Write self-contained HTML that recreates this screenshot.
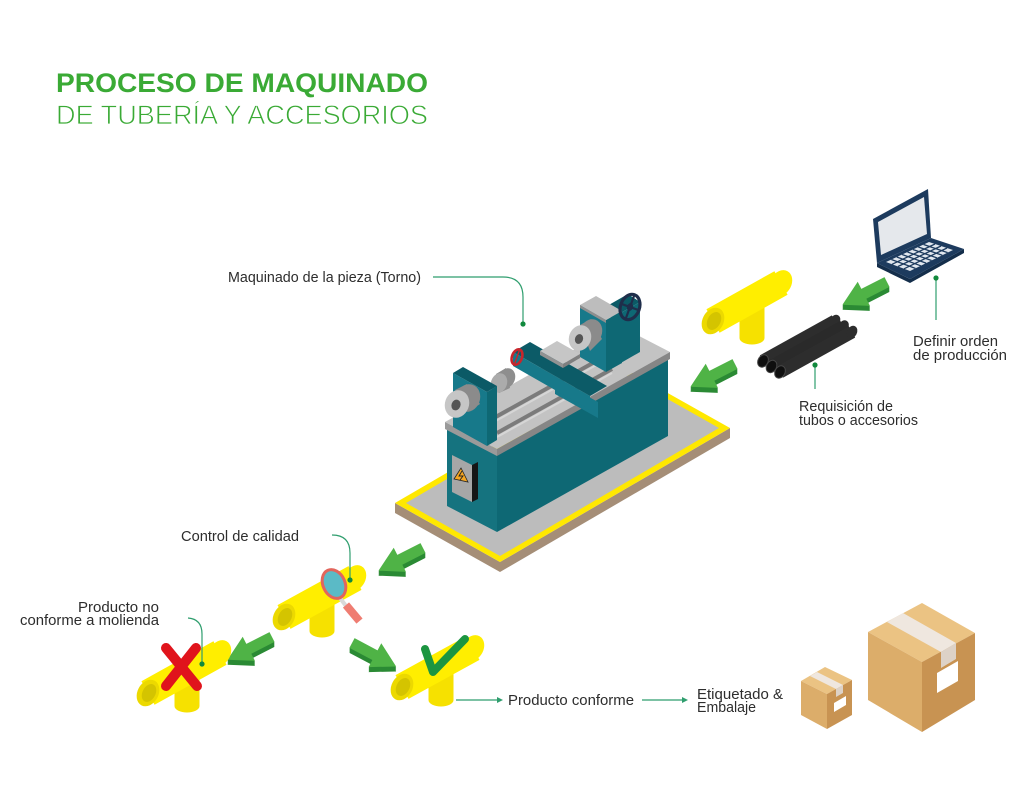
<!DOCTYPE html>
<html>
<head>
<meta charset="utf-8">
<style>
html,body{margin:0;padding:0;background:#ffffff;}
svg{display:block;}
.lbl{font-family:"Liberation Sans",sans-serif;font-size:14.5px;fill:#2d2d2d;}
</style>
</head>
<body>
<svg width="1024" height="791" viewBox="0 0 1024 791" xmlns="http://www.w3.org/2000/svg">
<defs>
  <polygon id="ap" points="0,-5.5 26,-5.5 26,-13.5 50,0 26,13.5 26,5.5 0,5.5"/>
</defs>
<rect width="1024" height="791" fill="#ffffff"/>

<!-- TITLE -->
<text x="56" y="92" font-family="Liberation Sans, sans-serif" font-weight="bold" font-size="27" fill="#3aaa35" textLength="372" lengthAdjust="spacingAndGlyphs">PROCESO DE MAQUINADO</text>
<text x="56" y="124" font-family="Liberation Sans, sans-serif" font-size="27" fill="#3aaa35" stroke="#ffffff" stroke-width="0.8" textLength="372" lengthAdjust="spacingAndGlyphs">DE TUBERÍA Y ACCESORIOS</text>

<!-- ===== LATHE BASE ===== -->
<polygon points="395,503 500,562 730,428 730,438 500,572 395,513" fill="#a58e77"/>
<polygon points="395,503 500,562 730,428 625,369" fill="#ffe800"/>
<polygon points="406,503 500,556 719,428 625,375" fill="#bcbcbc"/>

<!-- BODY -->
<polygon points="447,427 497,453 497,532 447,506" fill="#15737f"/>
<polygon points="497,453 668,357 668,436 497,532" fill="#0e6874"/>
<!-- top slab -->
<polygon points="445,422 497,449 670,352 618,325" fill="#c3c3c3"/>
<polygon points="445,422 497,449 497,456 445,429" fill="#9a9a9a"/>
<polygon points="497,449 670,352 670,359 497,456" fill="#868686"/>
<!-- rails -->
<line x1="497" y1="433" x2="612" y2="369" stroke="#7b7b7b" stroke-width="4"/>
<line x1="497" y1="437" x2="612" y2="373" stroke="#d6d6d6" stroke-width="2"/>
<line x1="492" y1="419" x2="600" y2="359" stroke="#7b7b7b" stroke-width="4"/>
<line x1="492" y1="423" x2="600" y2="363" stroke="#d6d6d6" stroke-width="2"/>

<!-- electrical panel -->
<polygon points="452,455 472,465 472,502 452,492" fill="#a7a7a7"/>
<polygon points="472,465 478,462 478,499 472,502" fill="#161616"/>
<polygon points="461,468 468,482 454,479" fill="#f5a623" stroke="#222" stroke-width="0.8"/>
<polyline points="462,471 459,476 463,476 460,480" fill="none" stroke="#222" stroke-width="0.9"/>

<!-- TAILSTOCK rear block -->
<polygon points="600,310 628,294 640,302 612,318" fill="#0b5a66"/>
<polygon points="612,318 640,302 640,352 612,368" fill="#0e6874"/>
<!-- tailstock front box -->
<polygon points="580,305 606,320 606,372 580,357" fill="#17798a"/>
<polygon points="606,320 622,311 622,363 606,372" fill="#0e6874"/>
<polygon points="580,305 606,320 622,311 596,296" fill="#bdbdbd"/>
<polygon points="580,305 606,320 606,323 580,308" fill="#8e8e8e"/>
<!-- tailstock chuck -->
<ellipse cx="591" cy="332" rx="11" ry="13" transform="rotate(20 591 332)" fill="#8b8b8b"/>
<polygon points="580,325 591,319 602,339 590,351" fill="#8b8b8b"/>
<ellipse cx="580" cy="338" rx="11" ry="13" transform="rotate(20 580 338)" fill="#c6c6c6"/>
<ellipse cx="579" cy="339" rx="4" ry="5" transform="rotate(20 579 339)" fill="#555"/>
<!-- handwheel -->
<g transform="rotate(20 630 307)">
  <ellipse cx="630" cy="307" rx="9.5" ry="13" fill="none" stroke="#1f2e4b" stroke-width="3.2"/>
  <line x1="630" y1="295" x2="630" y2="319" stroke="#1f2e4b" stroke-width="2.2"/>
  <line x1="621" y1="307" x2="639" y2="307" stroke="#1f2e4b" stroke-width="2.2"/>
  <ellipse cx="630" cy="307" rx="3" ry="4" fill="#1f2e4b"/>
</g>

<!-- CARRIAGE -->
<polygon points="555,378 598,402 598,418 555,394" fill="#17798a"/>
<polygon points="598,402 612,394 612,410 598,418" fill="#0e6874"/>
<polygon points="513,352 590,396 590,410 513,366" fill="#17798a"/>
<polygon points="513,352 590,396 607,386 530,342" fill="#0c5b67"/>
<polygon points="540,351 557,341 580,354 563,364" fill="#c6c6c6"/>
<polygon points="540,351 563,364 563,368 540,355" fill="#929292"/>
<polygon points="563,364 580,354 580,358 563,368" fill="#7f7f7f"/>
<!-- red wheel -->
<g transform="rotate(20 517 357)">
  <ellipse cx="517" cy="357" rx="5" ry="8" fill="none" stroke="#c8262c" stroke-width="2.6"/>
  <line x1="517" y1="349" x2="517" y2="365" stroke="#c8262c" stroke-width="1.4"/>
</g>

<!-- HEADSTOCK spindle behind -->
<ellipse cx="507" cy="378" rx="8" ry="10" transform="rotate(20 507 378)" fill="#8e8e8e"/>
<polygon points="496,374 506,368 510,388 499,393" fill="#8e8e8e"/>
<ellipse cx="499" cy="383" rx="8" ry="10" transform="rotate(20 499 383)" fill="#ababab"/>
<!-- headstock block -->
<polygon points="453,373 487,392 487,446 453,427" fill="#17798a"/>
<polygon points="487,392 497,386 497,440 487,446" fill="#0e6874"/>
<polygon points="453,373 463,367 497,386 487,392" fill="#0b5a66"/>
<!-- headstock chuck -->
<ellipse cx="468" cy="398" rx="12" ry="14" transform="rotate(20 468 398)" fill="#8b8b8b"/>
<polygon points="455,390 467,384 480,404 468,412" fill="#8b8b8b"/>
<ellipse cx="457" cy="404" rx="12" ry="14" transform="rotate(20 457 404)" fill="#c6c6c6"/>
<ellipse cx="456" cy="405" rx="4.5" ry="5.5" transform="rotate(20 456 405)" fill="#555"/>

<!-- ===== TEE 1 (top) ===== -->
<line x1="752" y1="299" x2="752" y2="338" stroke="#f6e100" stroke-width="25"/>
<ellipse cx="752" cy="338" rx="12.5" ry="6.5" fill="#f6e100"/>
<line x1="713" y1="321" x2="781" y2="283" stroke="#ffee00" stroke-width="27"/>
<ellipse cx="781" cy="283" rx="10.5" ry="13.5" transform="rotate(28 781 283)" fill="#ffee00"/>
<ellipse cx="713" cy="321" rx="10.5" ry="14" transform="rotate(28 713 321)" fill="#ecd900"/>
<ellipse cx="714" cy="321" rx="6.5" ry="9.5" transform="rotate(28 714 321)" fill="#d4c400"/>

<!-- BLACK TUBES -->
<line x1="763" y1="361" x2="835" y2="321" stroke="#2d2d2d" stroke-width="13"/>
<ellipse cx="835" cy="321" rx="5" ry="6.5" transform="rotate(28 835 321)" fill="#2d2d2d"/>
<ellipse cx="763" cy="361" rx="5" ry="6.5" transform="rotate(28 763 361)" fill="#0f0f0f" stroke="#474747" stroke-width="1"/>
<line x1="771.5" y1="366.5" x2="843.5" y2="326.5" stroke="#2a2a2a" stroke-width="13"/>
<ellipse cx="843.5" cy="326.5" rx="5" ry="6.5" transform="rotate(28 843.5 326.5)" fill="#2a2a2a"/>
<ellipse cx="771.5" cy="366.5" rx="5" ry="6.5" transform="rotate(28 771.5 366.5)" fill="#0f0f0f" stroke="#474747" stroke-width="1"/>
<line x1="780" y1="372" x2="852" y2="332" stroke="#2d2d2d" stroke-width="13"/>
<ellipse cx="852" cy="332" rx="5" ry="6.5" transform="rotate(28 852 332)" fill="#2d2d2d"/>
<ellipse cx="780" cy="372" rx="5" ry="6.5" transform="rotate(28 780 372)" fill="#0f0f0f" stroke="#474747" stroke-width="1"/>

<!-- ===== LAPTOP ===== -->
<polygon points="877,263 910,279 910,283 877,267" fill="#142e4b"/>
<polygon points="910,279 964,249 964,253 910,283" fill="#142e4b"/>
<polygon points="877,263 931,238 964,249 910,279" fill="#1d3b5e"/>
<polygon points="886,262 929,242 953,250 910,271" fill="#e1e7ee"/>
<g stroke="#1d3b5e" stroke-width="1.3">
  <line x1="892" y1="264.3" x2="935" y2="244"/>
  <line x1="898" y1="266.5" x2="941" y2="246"/>
  <line x1="904" y1="268.8" x2="947" y2="248"/>
  <line x1="891.4" y1="259.5" x2="915.4" y2="268.4"/>
  <line x1="896.8" y1="257" x2="920.8" y2="265.8"/>
  <line x1="902.1" y1="254.5" x2="926.1" y2="263.1"/>
  <line x1="907.5" y1="252" x2="931.5" y2="260.5"/>
  <line x1="912.9" y1="249.5" x2="936.9" y2="257.9"/>
  <line x1="918.3" y1="247" x2="942.3" y2="255.3"/>
  <line x1="923.6" y1="244.5" x2="947.6" y2="252.6"/>
</g>
<polygon points="873,219 928,189 931,238 877,263" fill="#1d3b5e"/>
<polygon points="878,222 924,197 927,234 881,255" fill="#e5e8ec"/>

<!-- ===== GREEN ARROWS ===== -->
<g transform="translate(887,282)">
  <use href="#ap" transform="translate(0,5) rotate(153)" fill="#2b8a34"/>
  <use href="#ap" transform="translate(0,4) rotate(153)" fill="#2b8a34"/>
  <use href="#ap" transform="translate(0,3) rotate(153)" fill="#2b8a34"/>
  <use href="#ap" transform="translate(0,2) rotate(153)" fill="#2b8a34"/>
  <use href="#ap" transform="translate(0,1) rotate(153)" fill="#2b8a34"/>
  <use href="#ap" transform="rotate(153)" fill="#4fb346"/>
</g>
<g transform="translate(735,364)">
  <use href="#ap" transform="translate(0,5) rotate(153)" fill="#2b8a34"/>
  <use href="#ap" transform="translate(0,4) rotate(153)" fill="#2b8a34"/>
  <use href="#ap" transform="translate(0,3) rotate(153)" fill="#2b8a34"/>
  <use href="#ap" transform="translate(0,2) rotate(153)" fill="#2b8a34"/>
  <use href="#ap" transform="translate(0,1) rotate(153)" fill="#2b8a34"/>
  <use href="#ap" transform="rotate(153)" fill="#4fb346"/>
</g>
<g transform="translate(423,548)">
  <use href="#ap" transform="translate(0,5) rotate(153)" fill="#2b8a34"/>
  <use href="#ap" transform="translate(0,4) rotate(153)" fill="#2b8a34"/>
  <use href="#ap" transform="translate(0,3) rotate(153)" fill="#2b8a34"/>
  <use href="#ap" transform="translate(0,2) rotate(153)" fill="#2b8a34"/>
  <use href="#ap" transform="translate(0,1) rotate(153)" fill="#2b8a34"/>
  <use href="#ap" transform="rotate(153)" fill="#4fb346"/>
</g>
<g transform="translate(272,637)">
  <use href="#ap" transform="translate(0,5) rotate(153)" fill="#2b8a34"/>
  <use href="#ap" transform="translate(0,4) rotate(153)" fill="#2b8a34"/>
  <use href="#ap" transform="translate(0,3) rotate(153)" fill="#2b8a34"/>
  <use href="#ap" transform="translate(0,2) rotate(153)" fill="#2b8a34"/>
  <use href="#ap" transform="translate(0,1) rotate(153)" fill="#2b8a34"/>
  <use href="#ap" transform="rotate(153)" fill="#4fb346"/>
</g>
<g transform="translate(352,643)">
  <use href="#ap" transform="translate(0,5) rotate(28)" fill="#2b8a34"/>
  <use href="#ap" transform="translate(0,4) rotate(28)" fill="#2b8a34"/>
  <use href="#ap" transform="translate(0,3) rotate(28)" fill="#2b8a34"/>
  <use href="#ap" transform="translate(0,2) rotate(28)" fill="#2b8a34"/>
  <use href="#ap" transform="translate(0,1) rotate(28)" fill="#2b8a34"/>
  <use href="#ap" transform="rotate(28)" fill="#4fb346"/>
</g>

<!-- ===== TEE 2 (quality control) ===== -->
<line x1="322" y1="596" x2="322" y2="631" stroke="#f6e100" stroke-width="25"/>
<ellipse cx="322" cy="631" rx="12.5" ry="6.5" fill="#f6e100"/>
<line x1="284" y1="617" x2="355" y2="578" stroke="#ffee00" stroke-width="27"/>
<ellipse cx="355" cy="578" rx="10.5" ry="13.5" transform="rotate(28 355 578)" fill="#ffee00"/>
<ellipse cx="284" cy="617" rx="10.5" ry="14" transform="rotate(28 284 617)" fill="#ecd900"/>
<ellipse cx="285" cy="617" rx="6.5" ry="9.5" transform="rotate(28 285 617)" fill="#d4c400"/>
<!-- magnifier -->
<line x1="340" y1="598" x2="346" y2="606" stroke="#d9d9d9" stroke-width="4"/>
<rect x="-4" y="0" width="8" height="21" transform="translate(346,605) rotate(-40)" fill="#ef7d72"/>
<ellipse cx="334" cy="584" rx="11" ry="15" transform="rotate(-25 334 584)" fill="#5bbac6" stroke="#e2655c" stroke-width="3"/>

<!-- ===== TEE 3 (X) ===== -->
<line x1="187" y1="671" x2="187" y2="706" stroke="#f6e100" stroke-width="25"/>
<ellipse cx="187" cy="706" rx="12.5" ry="6.5" fill="#f6e100"/>
<line x1="148" y1="693" x2="220" y2="653" stroke="#ffee00" stroke-width="27"/>
<ellipse cx="220" cy="653" rx="10.5" ry="13.5" transform="rotate(28 220 653)" fill="#ffee00"/>
<ellipse cx="148" cy="693" rx="10.5" ry="14" transform="rotate(28 148 693)" fill="#ecd900"/>
<ellipse cx="149" cy="693" rx="6.5" ry="9.5" transform="rotate(28 149 693)" fill="#d4c400"/>
<line x1="166" y1="648" x2="197" y2="686" stroke="#e0141c" stroke-width="10" stroke-linecap="round"/>
<line x1="196" y1="648" x2="166" y2="686" stroke="#e0141c" stroke-width="10" stroke-linecap="round"/>

<!-- ===== TEE 4 (check) ===== -->
<line x1="441" y1="666" x2="441" y2="700" stroke="#f6e100" stroke-width="25"/>
<ellipse cx="441" cy="700" rx="12.5" ry="6.5" fill="#f6e100"/>
<line x1="402" y1="687" x2="473" y2="648" stroke="#ffee00" stroke-width="27"/>
<ellipse cx="473" cy="648" rx="10.5" ry="13.5" transform="rotate(28 473 648)" fill="#ffee00"/>
<ellipse cx="402" cy="687" rx="10.5" ry="14" transform="rotate(28 402 687)" fill="#ecd900"/>
<ellipse cx="403" cy="687" rx="6.5" ry="9.5" transform="rotate(28 403 687)" fill="#d4c400"/>
<polyline points="425,649 433,672 465,639" fill="none" stroke="#1c9541" stroke-width="8" stroke-linecap="round" stroke-linejoin="round"/>

<!-- ===== BOXES ===== -->
<!-- small -->
<polygon points="825,667 852,680 827,694 801,681" fill="#ebc383"/>
<polygon points="801,681 827,694 827,729 801,715" fill="#dcad6a"/>
<polygon points="827,694 852,680 852,715 827,729" fill="#c89352"/>
<polygon points="810,676 817,672 843,685 836,689" fill="#efe7df"/>
<polygon points="836,689 843,685 843,693 836,697" fill="#ddd2c7"/>
<polygon points="834,703 846,696 846,705 834,712" fill="#ffffff"/>
<!-- large -->
<polygon points="922,603 975,633 922,662 868,632" fill="#ebc383"/>
<polygon points="868,632 922,662 922,732 868,700" fill="#dcad6a"/>
<polygon points="922,662 975,633 975,700 922,732" fill="#c89352"/>
<polygon points="887,622 903,613 956,643 941,652" fill="#efe7df"/>
<polygon points="941,652 956,643 956,659 941,668" fill="#ddd2c7"/>
<polygon points="937,673 958,661 958,681 937,693" fill="#ffffff"/>

<!-- ===== LEADERS & CONNECTORS ===== -->
<g fill="none" stroke="#2f9e6e" stroke-width="1.2">
  <path d="M433,277 H503 Q523,277 523,297 V322"/>
  <line x1="936" y1="280" x2="936" y2="320"/>
  <line x1="815" y1="367" x2="815" y2="389"/>
  <path d="M332,535 Q350,535 350,553 V578"/>
  <path d="M188,618 Q202,619 202,634 V662"/>
  <line x1="456" y1="700" x2="497" y2="700"/>
  <line x1="642" y1="700" x2="682" y2="700"/>
</g>
<polygon points="497,697 503,700 497,703" fill="#2f9e6e"/>
<polygon points="682,697 688,700 682,703" fill="#2f9e6e"/>
<g fill="#11893d">
  <circle cx="523" cy="324" r="2.6"/>
  <circle cx="936" cy="278" r="2.6"/>
  <circle cx="815" cy="365" r="2.6"/>
  <circle cx="350" cy="580" r="2.6"/>
  <circle cx="202" cy="664" r="2.6"/>
</g>

<!-- ===== LABELS ===== -->
<text class="lbl" x="228" y="282" textLength="193" lengthAdjust="spacingAndGlyphs">Maquinado de la pieza (Torno)</text>
<text class="lbl" x="913" y="346" textLength="85" lengthAdjust="spacingAndGlyphs">Definir orden</text>
<text class="lbl" x="913" y="360" textLength="94" lengthAdjust="spacingAndGlyphs">de producción</text>
<text class="lbl" x="799" y="411" textLength="94" lengthAdjust="spacingAndGlyphs">Requisición de</text>
<text class="lbl" x="799" y="425" textLength="119" lengthAdjust="spacingAndGlyphs">tubos o accesorios</text>
<text class="lbl" x="181" y="541" textLength="118" lengthAdjust="spacingAndGlyphs">Control de calidad</text>
<text class="lbl" x="78" y="612" textLength="81" lengthAdjust="spacingAndGlyphs">Producto no</text>
<text class="lbl" x="20" y="625" textLength="139" lengthAdjust="spacingAndGlyphs">conforme a molienda</text>
<text class="lbl" x="508" y="705" textLength="126" lengthAdjust="spacingAndGlyphs">Producto conforme</text>
<text class="lbl" x="697" y="699" textLength="86" lengthAdjust="spacingAndGlyphs">Etiquetado &amp;</text>
<text class="lbl" x="697" y="712" textLength="59" lengthAdjust="spacingAndGlyphs">Embalaje</text>
</svg>
</body>
</html>
